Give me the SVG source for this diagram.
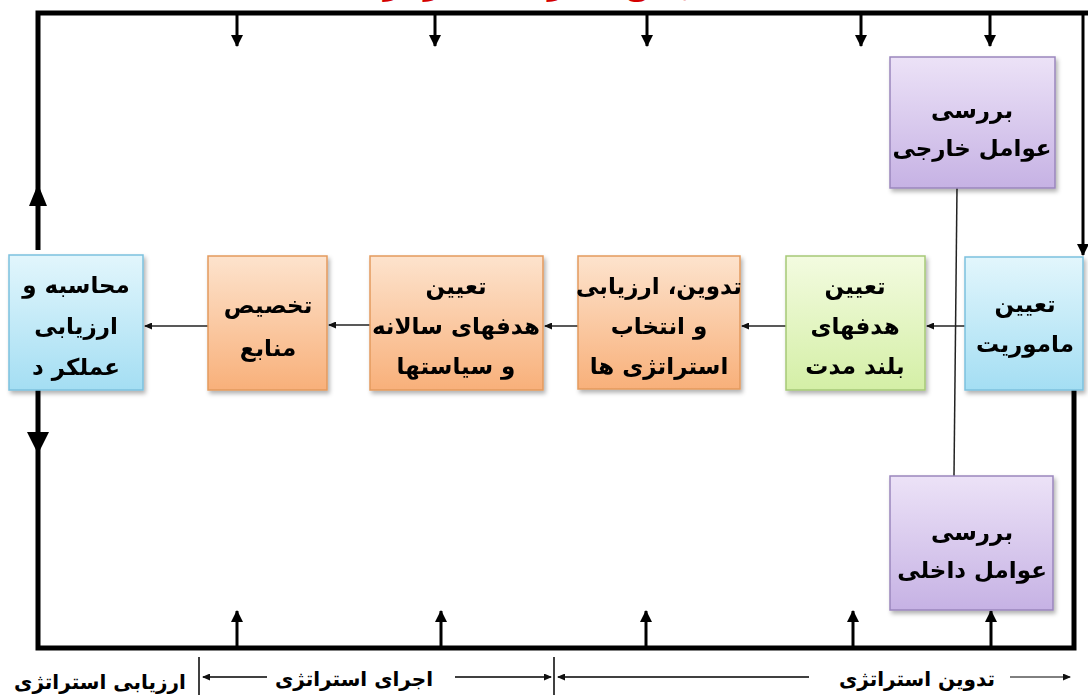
<svg xmlns="http://www.w3.org/2000/svg" width="1088" height="695" viewBox="0 0 1088 695">
<style>
.t{font-family:"DejaVu Sans","Noto Sans",sans-serif;font-weight:bold;font-size:23px;fill:#000;text-anchor:middle;direction:rtl}
.b{font-family:"DejaVu Sans","Noto Sans",sans-serif;font-weight:bold;font-size:20px;fill:#000;direction:rtl}
.thick{stroke:#000;stroke-width:5;fill:none}
.mid{stroke:#000;stroke-width:3;fill:none}
.thin{stroke:#222;stroke-width:1.5;fill:none}
.box{stroke-width:1.5}
</style>
<defs>
<linearGradient id="gp" x1="0" y1="0" x2="0" y2="1"><stop offset="0" stop-color="#ece2f7"/><stop offset="1" stop-color="#c6b2e4"/></linearGradient>
<linearGradient id="gb" x1="0" y1="0" x2="0" y2="1"><stop offset="0" stop-color="#e2f6fc"/><stop offset="1" stop-color="#a4def3"/></linearGradient>
<linearGradient id="go" x1="0" y1="0" x2="0" y2="1"><stop offset="0" stop-color="#fde3cd"/><stop offset="1" stop-color="#f8b07a"/></linearGradient>
<linearGradient id="gg" x1="0" y1="0" x2="0" y2="1"><stop offset="0" stop-color="#f3fbe0"/><stop offset="1" stop-color="#d4efa6"/></linearGradient>
<filter id="sh" x="-10%" y="-10%" width="125%" height="125%"><feDropShadow dx="2" dy="3" stdDeviation="2" flood-color="#000" flood-opacity="0.3"/></filter>
<marker id="as" markerWidth="8" markerHeight="7" refX="7" refY="3.5" orient="auto" markerUnits="userSpaceOnUse"><path d="M0,0 L8,3.5 L0,7 z" fill="#111"/></marker>
<marker id="am" markerWidth="12" markerHeight="12" refX="11" refY="6" orient="auto" markerUnits="userSpaceOnUse"><path d="M0,0 L12,6 L0,12 z" fill="#000"/></marker>
</defs>

<text x="555" y="-5" font-family="DejaVu Sans, sans-serif" font-weight="bold" font-size="30" fill="#d40000" text-anchor="middle" direction="rtl">مدل جامع مدیریت استراتژیک</text>

<g id="connectors">
<polyline class="thick" points="38,250 38,13 1088,13"/>
<polyline class="mid" points="1083,13 1083,255" stroke-width="2.5" marker-end="url(#am)"/>
<polygon points="38,184 29,206 47,206" fill="#000"/>
<polyline class="thick" points="38,390 38,648 1074,648 1074,365" marker-end="url(#am)"/>
<polygon points="27,432 49,432 38,454" fill="#000"/>
<line class="mid" x1="237" y1="13" x2="237" y2="46" marker-end="url(#am)"/>
<line class="mid" x1="435" y1="13" x2="435" y2="46" marker-end="url(#am)"/>
<line class="mid" x1="647" y1="13" x2="647" y2="46" marker-end="url(#am)"/>
<line class="mid" x1="861" y1="13" x2="861" y2="46" marker-end="url(#am)"/>
<line class="mid" x1="990" y1="13" x2="990" y2="46" marker-end="url(#am)"/>
<line class="mid" x1="237" y1="648" x2="237" y2="611" marker-end="url(#am)"/>
<line class="mid" x1="441" y1="648" x2="441" y2="611" marker-end="url(#am)"/>
<line class="mid" x1="646" y1="648" x2="646" y2="611" marker-end="url(#am)"/>
<line class="mid" x1="853" y1="648" x2="853" y2="611" marker-end="url(#am)"/>
<line class="mid" x1="991" y1="648" x2="991" y2="611" marker-end="url(#am)"/>
<line class="thin" x1="957" y1="188" x2="954" y2="476" stroke-width="1.8"/>
<line class="thin" x1="965" y1="326" x2="927" y2="326" marker-end="url(#as)"/>
<line class="thin" x1="786" y1="326" x2="742" y2="326" marker-end="url(#as)"/>
<line class="thin" x1="578" y1="326" x2="545" y2="326" marker-end="url(#as)"/>
<line class="thin" x1="370" y1="325" x2="329" y2="325" marker-end="url(#as)"/>
<line class="thin" x1="208" y1="326" x2="145" y2="326" marker-end="url(#as)"/>
</g>

<g id="external" filter="url(#sh)">
<rect class="box" x="890" y="57" width="165" height="131" fill="url(#gp)" stroke="#9a86bd"/>
<text class="t" x="972" y="118" font-size="24">بررسی</text>
<text class="t" x="972" y="156" font-size="24">عوامل خارجی</text>
</g>
<g id="internal" filter="url(#sh)">
<rect class="box" x="890" y="476" width="163" height="134" fill="url(#gp)" stroke="#9a86bd"/>
<text class="t" x="972" y="540" font-size="24">بررسی</text>
<text class="t" x="972" y="578" font-size="24">عوامل داخلی</text>
</g>
<g id="mission" filter="url(#sh)">
<rect class="box" x="965" y="257" width="118" height="133" fill="url(#gb)" stroke="#7cc1de"/>
<text class="t" x="1025" y="312">تعیین</text>
<text class="t" x="1025" y="352">ماموریت</text>
</g>
<g id="longterm" filter="url(#sh)">
<rect class="box" x="786" y="256" width="139" height="134" fill="url(#gg)" stroke="#a6c977"/>
<text class="t" x="855" y="294">تعیین</text>
<text class="t" x="855" y="334">هدفهای</text>
<text class="t" x="855" y="374">بلند مدت</text>
</g>
<g id="strategies" filter="url(#sh)">
<rect class="box" x="578" y="256" width="162" height="133" fill="url(#go)" stroke="#e39a5e"/>
<text class="t" x="659" y="294">تدوین، ارزیابی</text>
<text class="t" x="659" y="334">و انتخاب</text>
<text class="t" x="659" y="374">استراتژی ها</text>
</g>
<g id="annual" filter="url(#sh)">
<rect class="box" x="370" y="256" width="173" height="134" fill="url(#go)" stroke="#e39a5e"/>
<text class="t" x="456" y="294">تعیین</text>
<text class="t" x="456" y="334">هدفهای سالانه</text>
<text class="t" x="456" y="374">و سیاستها</text>
</g>
<g id="resources" filter="url(#sh)">
<rect class="box" x="208" y="256" width="119" height="134" fill="url(#go)" stroke="#e39a5e"/>
<text class="t" x="268" y="313">تخصیص</text>
<text class="t" x="268" y="356">منابع</text>
</g>
<g id="evaluation" filter="url(#sh)">
<rect class="box" x="9" y="255" width="134" height="135" fill="url(#gb)" stroke="#7cc1de"/>
<text class="t" x="76" y="293">محاسبه و</text>
<text class="t" x="76" y="334">ارزیابی</text>
<text class="t" x="76" y="375">عملکر د</text>
</g>

<g id="phases">
<line x1="199" y1="657" x2="199" y2="695" stroke="#000" stroke-width="1.5"/>
<line x1="554" y1="657" x2="554" y2="695" stroke="#000" stroke-width="1.5"/>
<line x1="267" y1="677" x2="203" y2="677" stroke="#000" stroke-width="1.5" marker-end="url(#as)"/>
<line x1="455" y1="677" x2="551" y2="677" stroke="#000" stroke-width="1.5" marker-end="url(#as)"/>
<line x1="809" y1="677" x2="558" y2="677" stroke="#000" stroke-width="1.5" marker-end="url(#as)"/>
<line x1="1010" y1="677" x2="1070" y2="677" stroke="#000" stroke-width="1" marker-end="url(#as)"/>
<text class="b" x="100" y="689" text-anchor="middle">ارزیابی استراتژی</text>
<text class="b" x="354" y="686" text-anchor="middle">اجرای استراتژی</text>
<text class="b" x="917" y="686" text-anchor="middle">تدوین استراتژی</text>
</g>
</svg>
